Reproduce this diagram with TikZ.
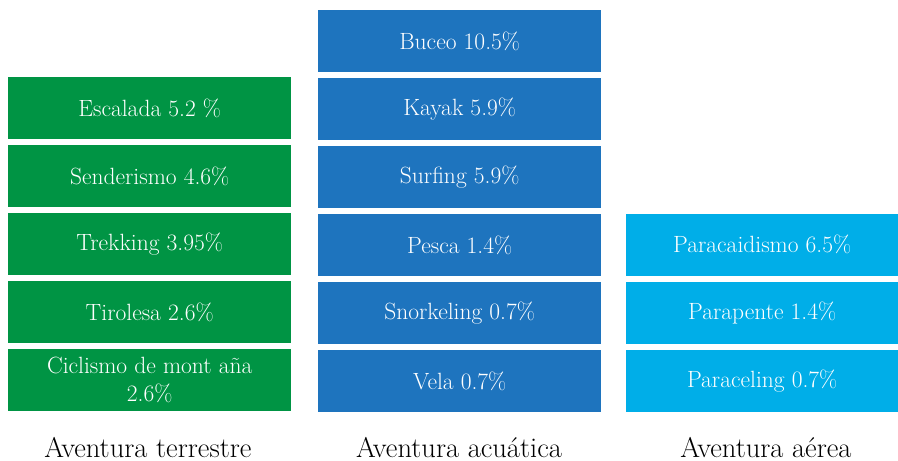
\documentclass[tikz,border=0pt]{standalone}
\usepackage{tikz}
\usetikzlibrary{positioning}
\definecolor{landgreen}{HTML}{009444}
\definecolor{waterblue}{HTML}{1E74BE}
\definecolor{airblue}{HTML}{00AEE8}

\begin{document}
\begin{tikzpicture}[%
		x=1pt, y=-1pt,
		node distance=5.6pt,
		activity/.style={
			rectangle,
			minimum height=62pt,
			minimum width=283pt,
			inner sep=0pt,
			align=center,
			text=white,
			font=\fontsize{23.5}{28}\selectfont,
			anchor=north west
		},
		land/.style={
			fill=landgreen
		},
		water/.style={
			fill=waterblue
		},
		air/.style={
			fill=airblue,
			minimum width=272pt
		},
		category/.style={
			font=\fontsize{28.5}{34}\selectfont,
			inner sep=0pt,
			anchor=base,
			text=black
		}]

		\useasboundingbox (0,0) rectangle (898,461);

		% TERRESTRE

		\node (escalada) [activity,land] at (8,77) {Escalada 5.2 \%};
		\node (senderismo) [activity,land,below=of escalada] {Senderismo 4.6\%};
		\node (trekking) [activity,land,below=of senderismo] {Trekking 3.95\%};
		\node (tirolesa) [activity,land,below=of trekking] {Tirolesa 2.6\%};
		\node (ciclismo) [activity,land,below=of tirolesa] {Ciclismo de mont aña\\ 2.6\%};

		% ACUATICA

		\node (buceo) [activity,water] at (318,10) {Buceo 10.5\%};
		\node (kayak) [activity,water,below=of buceo] {Kayak 5.9\%};
		\node (surfing) [activity,water,below=of kayak] {Surfing 5.9\%};
		\node (pesca) [activity,water,below=of surfing] {Pesca 1.4\%};
		\node (snorkeling) [activity,water,below=of pesca] {Snorkeling 0.7\%};
		\node (vela) [activity,water,below=of snorkeling] {Vela 0.7\%};

		% AEREA

		\node (paracaidismo) [activity,air] at (626,213.5) {Paracaidismo 6.5\%};
		\node (parapente) [activity,air,below=of paracaidismo] {Parapente 1.4\%};
		\node (paraceling) [activity,air,below=of parapente] {Paraceling 0.7\%};

		% CATEGORY LABELS

		\node (terrestre) [category] at (148,457) {Aventura terrestre};
		\node (acuatica) [category] at (459,457) {Aventura acuática};
		\node (aerea) [category] at (766,457) {Aventura aérea};
\end{tikzpicture}
\end{document}
